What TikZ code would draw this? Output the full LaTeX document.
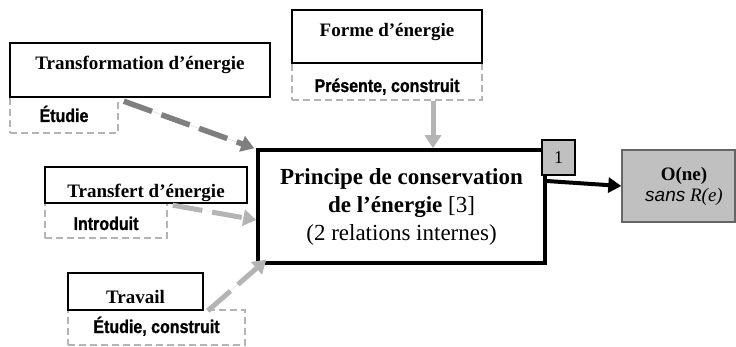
\documentclass[tikz,border=0pt]{standalone}
\usepackage{fontspec}
\usepackage{graphicx}
\setmainfont{Liberation Serif}
\newfontfamily\labfont[FakeBold=1.2]{Liberation Sans Bold}
\newfontfamily\sansit{Liberation Sans Italic}
\newcommand{\vstretch}[1]{\scalebox{1}[1.15]{#1}}
\usetikzlibrary{arrows.meta}
\definecolor{dkgray}{HTML}{7F7F7F}
\definecolor{ltgray}{HTML}{B4B4B4}
\definecolor{boxgray}{HTML}{C0C0C0}
\definecolor{edgegray}{HTML}{666666}
\begin{document}
\begin{tikzpicture}[x=1pt,y=-1pt,
  titlebox/.style={draw=black, line width=1.6pt, fill=white, inner sep=0pt,
    font=\fontsize{19}{22}\selectfont\bfseries},
  verbbox/.style={draw=ltgray, line width=1.6pt, dash pattern=on 7pt off 4pt,
    fill=white, inner sep=0pt, font=\labfont\fontsize{16}{18}\selectfont},
  linkarrow/.style={line width=5pt, dash pattern=on 30pt off 10pt,
    -{Triangle[length=13pt,width=16pt]}},
]
\useasboundingbox (0,0) rectangle (736,347);

% dashed "verb" boxes
\node[verbbox, minimum width=108pt, text height=25pt, text depth=11pt] (etu) at (64,115) {\vstretch{Étudie}};
\node[verbbox, minimum width=190pt, text height=29pt, text depth=8pt] (pres) at (387,81.5) {\vstretch{Présente, construit}};
\node[verbbox, minimum width=122pt, text height=27pt, text depth=8pt] (intro) at (106,220.5) {\vstretch{Introduit}};
\node[verbbox, minimum width=177pt, text height=23pt, text depth=12pt] (etc) at (156.5,327.5) {\vstretch{Étudie, construit}};

% title boxes
\node[titlebox, minimum width=260pt, text height=27pt, text depth=27pt] (tf) at (140,70) {Transformation d’énergie};
\node[titlebox, minimum width=190pt, text height=27pt, text depth=26pt] (fo) at (387,36.5) {Forme d’énergie};
\node[titlebox, minimum width=202pt, text height=31pt, text depth=5pt] (trf) at (146,185) {Transfert d’énergie};
\node[titlebox, minimum width=135pt, text height=30pt, text depth=7pt] (tra) at (135.5,291.5) {Travail};

% central box
\node[draw=black, line width=3.5pt, fill=white, inner sep=0pt,
      minimum width=287pt, minimum height=113pt, align=center,
      font=\fontsize{23}{28}\selectfont] (pr) at (401.5,206.5)
  {\textbf{Principe de conservation}\\\textbf{de l’énergie} [3]\\(2 relations internes)};

% number box
\node[draw=black, line width=1.6pt, fill=boxgray, inner sep=0pt,
      minimum width=33pt, minimum height=35pt, font=\fontsize{18}{20}\selectfont] (one) at (558.5,157.5) {1};

% result box
\node[draw=edgegray, line width=1.4pt, fill=boxgray, inner sep=0pt,
      minimum width=113pt, minimum height=72pt, align=center,
      font=\fontsize{19}{21}\selectfont] (on) at (678.5,186)
  {\hspace*{11pt}\textbf{O(ne)}\\\hspace*{11pt}{\sansit sans} \textit{R(e)}};

% connectors
\draw[linkarrow, draw=dkgray, fill=dkgray, line width=5.5pt]
  ([xshift=5pt,yshift=-5pt]etu.north east) -- ([xshift=-2pt]pr.north west);
\draw[linkarrow, draw=ltgray, fill=ltgray]
  ([xshift=5pt,yshift=-3pt]intro.north east) -- ([yshift=-13.5pt]pr.west);
\draw[linkarrow, draw=ltgray, fill=ltgray]
  ([xshift=4pt]tra.south east) -- ([xshift=10pt,yshift=5pt]pr.south west);
\draw[line width=5pt, draw=ltgray, -{Triangle[length=13pt,width=16pt]}]
  ([xshift=46pt]pres.south) -- ([xshift=46pt]pres.south |- pr.north);
\draw[line width=4pt, draw=black, -{Triangle[length=13pt,width=15pt]}]
  ([yshift=25.5pt]pr.east) -- (on.west);
\end{tikzpicture}
\end{document}
